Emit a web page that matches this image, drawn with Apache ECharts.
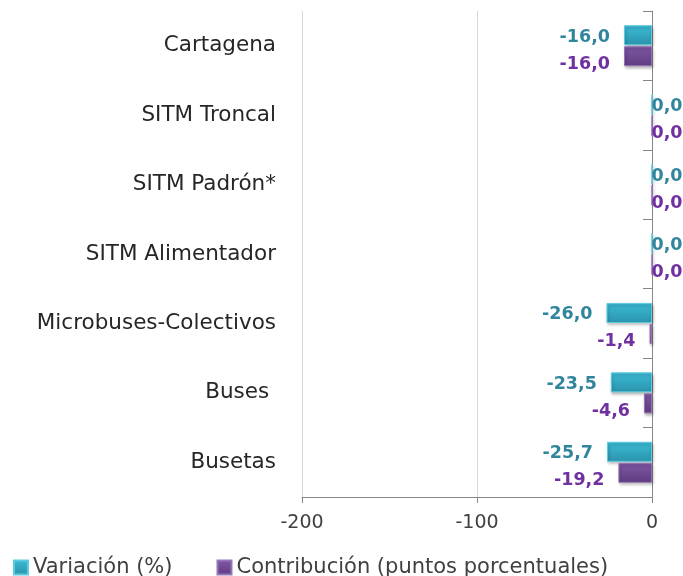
<!DOCTYPE html>
<html>
<head>
<meta charset="utf-8">
<script src="https://cdn.jsdelivr.net/npm/echarts@6/dist/echarts.min.js"></script>
<style>
  html, body { margin: 0; padding: 0; background: #fff; }
  #chart { width: 683px; height: 576px; }
</style>
</head>
<body>
<div id="chart"></div>
<script>
const categories = ['Cartagena', 'SITM Troncal', 'SITM Padrón*', 'SITM Alimentador', 'Microbuses-Colectivos', 'Buses ', 'Busetas'];
const variacion = [-16.0, 0.0, 0.0, 0.0, -26.0, -23.5, -25.7];
const contribucion = [-16.0, 0.0, 0.0, 0.0, -1.4, -4.6, -19.2];
const xTicks = [-200, -100, 0];

const FONT = '"DejaVu Sans", Verdana, sans-serif';
const fmt = v => v.toFixed(1).replace('.', ',');

const tealFill = new echarts.graphic.LinearGradient(0, 0, 0, 1, [
  { offset: 0, color: '#3cbcd6' },
  { offset: 1, color: '#2a93ac' }
]);
const purpleFill = new echarts.graphic.LinearGradient(0, 0, 0, 1, [
  { offset: 0, color: '#8058a6' },
  { offset: 1, color: '#5f3c80' }
]);

// zero values get their label on the right of the axis, like the original
const withLabels = (values, color, dy) => values.map(v => ({
  value: v,
  label: {
    position: v === 0 ? 'right' : 'left',
    distance: v === 0 ? -1 : 14,
    offset: [0, dy],
    color: color
  }
}));

const chart = echarts.init(document.getElementById('chart'));
chart.setOption({
  animation: false,
  grid: { left: 302, right: 31, top: 11, bottom: 79 },
  legend: {
    top: 552,
    left: 8,
    itemWidth: 14,
    itemHeight: 14,
    itemGap: 44,
    icon: 'rect',
    textStyle: { fontFamily: FONT, fontSize: 21, color: '#404040' },
    data: ['Variación (%)', 'Contribución (puntos porcentuales)']
  },
  xAxis: {
    type: 'value',
    min: -200,
    max: 0,
    interval: 100,
    axisLine: { show: true, lineStyle: { color: '#868686' } },
    axisTick: { show: true, length: 6, lineStyle: { color: '#868686' } },
    axisLabel: {
      fontFamily: FONT, fontSize: 19, color: '#404040', margin: 17,
      formatter: v => xTicks.includes(v) ? String(v) : ''
    },
    splitLine: { show: true, lineStyle: { color: '#d9d9d9' } }
  },
  yAxis: [
    {
      type: 'category',
      data: categories,
      inverse: true,
      position: 'left',
      axisLine: { show: false },
      axisTick: { show: false },
      axisLabel: { fontFamily: FONT, fontSize: 21.5, color: '#262626', margin: 26, padding: [5, 0, 0, 0] }
    },
    {
      type: 'category',
      data: categories,
      inverse: true,
      position: 'right',
      axisLine: { show: true, lineStyle: { color: '#868686' } },
      axisTick: { show: true, inside: true, length: 9, lineStyle: { color: '#868686' } },
      axisLabel: { show: false }
    }
  ],
  series: [
    {
      name: 'Variación (%)',
      type: 'bar',
      yAxisIndex: 0,
      barWidth: 20,
      barGap: '5%',
      data: withLabels(variacion, '#31859c', 2),
      itemStyle: {
        color: tealFill,
        borderColor: '#5ccbe0',
        borderWidth: 1,
        shadowBlur: 3,
        shadowColor: 'rgba(0,0,0,0.3)',
        shadowOffsetX: 1,
        shadowOffsetY: 2
      },
      label: {
        show: true,
        fontFamily: FONT,
        fontSize: 17.5,
        fontWeight: 'bold',
        formatter: p => fmt(p.value)
      }
    },
    {
      name: 'Contribución (puntos porcentuales)',
      type: 'bar',
      yAxisIndex: 0,
      barWidth: 20,
      barGap: '5%',
      data: withLabels(contribucion, '#7030a0', 8),
      itemStyle: {
        color: purpleFill,
        borderColor: '#9475b5',
        borderWidth: 1,
        shadowBlur: 3,
        shadowColor: 'rgba(0,0,0,0.3)',
        shadowOffsetX: 1,
        shadowOffsetY: 2
      },
      label: {
        show: true,
        fontFamily: FONT,
        fontSize: 17.5,
        fontWeight: 'bold',
        formatter: p => fmt(p.value)
      }
    }
  ]
});
</script>
</body>
</html>
